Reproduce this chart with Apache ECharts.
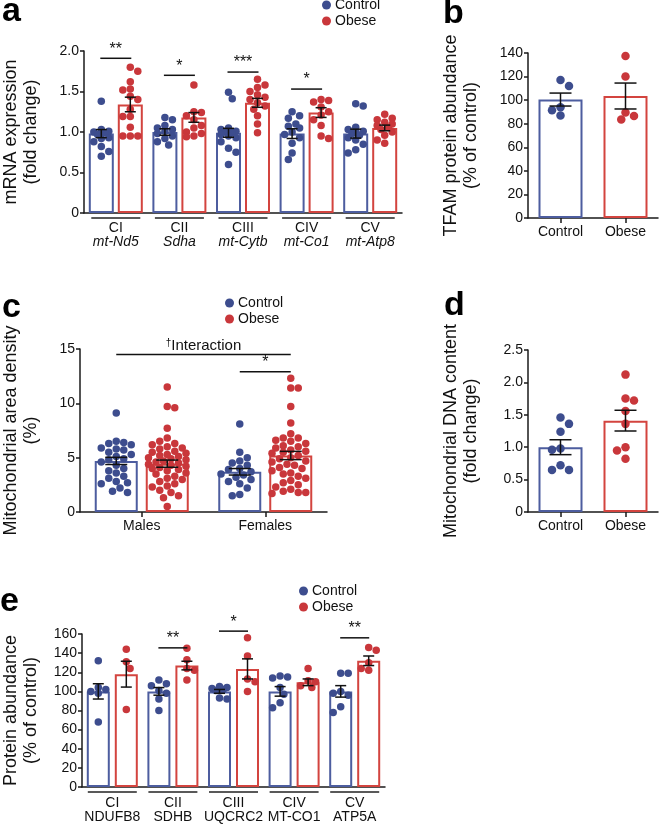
<!DOCTYPE html>
<html><head><meta charset="utf-8">
<script src="https://cdn.jsdelivr.net/npm/echarts@6.0.0/dist/echarts.min.js"></script>
<style>html,body{margin:0;padding:0;background:#fff}#c{width:659px;height:824px}</style>
</head><body><div id="c"></div>
<script>
// ---------------- DATA ----------------
// Panel a: mRNA expression (fold change)
const aComplexes = ['CI', 'CII', 'CIII', 'CIV', 'CV'];
const aGenes = ['mt-Nd5', 'Sdha', 'mt-Cytb', 'mt-Co1', 'mt-Atp8'];
const aControlMean = [0.98, 1.00, 0.99, 0.98, 0.98];
const aControlSem = [0.05, 0.04, 0.055, 0.06, 0.055];
const aObeseMean = [1.34, 1.18, 1.36, 1.24, 1.05];
const aObeseSem = [0.09, 0.06, 0.055, 0.06, 0.035];
const aControlPts = [
  [1.38, 1.03, 1.01, 1.00, 0.99, 0.97, 0.93, 0.92, 0.88, 0.82, 0.76, 0.70],
  [1.18, 1.15, 1.08, 1.05, 1.03, 1.01, 0.98, 0.95, 0.92, 0.88, 0.84],
  [1.49, 1.41, 1.05, 1.03, 1.01, 1.00, 0.99, 0.97, 0.95, 0.93, 0.88, 0.80, 0.75, 0.60],
  [1.25, 1.20, 1.17, 1.10, 1.07, 1.05, 1.00, 0.97, 0.93, 0.86, 0.74, 0.66],
  [1.35, 1.32, 1.06, 1.03, 1.01, 1.00, 0.98, 0.96, 0.93, 0.90, 0.85, 0.78, 0.74]
];
const aObesePts = [
  [1.80, 1.75, 1.62, 1.53, 1.52, 1.44, 1.40, 1.28, 1.19, 1.19, 1.06, 0.95, 0.95, 0.95],
  [1.58, 1.25, 1.24, 1.20, 1.15, 1.08, 1.05, 1.00, 0.98, 0.95, 0.94],
  [1.65, 1.58, 1.55, 1.50, 1.46, 1.43, 1.40, 1.36, 1.32, 1.28, 1.20, 1.10, 0.99],
  [1.40, 1.39, 1.37, 1.31, 1.25, 1.21, 1.15, 1.08, 0.95, 0.92],
  [1.22, 1.17, 1.15, 1.12, 1.10, 1.08, 1.06, 1.03, 1.00, 0.96, 0.90, 0.86]
];
const aSigLabels = ['**', '*', '***', '*', ''];
const aSigLevels = [1.91, 1.70, 1.74, 1.53, null];
const aTicks = [0, 0.5, 1.0, 1.5, 2.0];

// Panel b: TFAM protein abundance (% of control)
const bGroups = ['Control', 'Obese'];
const bMean = [100.5, 103.5];
const bSem = [5.5, 11];
const bPts = [[117, 112, 94, 91.5, 87], [137.5, 120, 89.5, 86.5, 83.5]];
const bTicks = [0, 20, 40, 60, 80, 100, 120, 140];

// Panel c: Mitochondrial area density (%)
const cSexes = ['Males', 'Females'];
const cControlMean = [4.7, 3.7];
const cControlSem = [0.33, 0.3];
const cObeseMean = [4.45, 5.2];
const cObeseSem = [0.33, 0.38];
const cControlPts = [
  [9.1, 6.5, 6.4, 6.3, 6.2, 5.9, 5.8, 5.7, 5.5, 5.3, 5.1, 4.9, 4.8, 4.6, 4.3, 4.0, 3.8, 3.6, 3.3, 3.1, 2.8, 2.7, 2.6, 2.2, 1.9, 1.8],
  [8.1, 5.5, 5.0, 4.7, 4.5, 4.3, 4.0, 3.9, 3.7, 3.5, 3.4, 3.2, 3.0, 2.8, 2.6, 2.2, 1.6, 1.5]
];
const cObesePts = [
  [11.5, 9.7, 9.6, 7.7, 6.8, 6.5, 6.3, 6.2, 6.0, 5.9, 5.8, 5.6, 5.5, 5.4, 5.3, 5.2, 5.1, 5.0, 4.9, 4.8, 4.7, 4.6, 4.5, 4.4, 4.3, 4.2, 4.1, 4.0, 3.9, 3.8, 3.6, 3.5, 3.3, 3.1, 3.0, 2.8, 2.6, 2.4, 2.3, 2.0, 1.8, 1.5, 1.3, 0.5],
  [12.3, 11.4, 11.4, 9.7, 8.2, 7.2, 6.8, 6.8, 6.6, 6.5, 6.3, 6.1, 6.0, 5.9, 5.7, 5.6, 5.5, 5.4, 5.2, 5.0, 4.9, 4.7, 4.6, 4.4, 4.3, 4.1, 4.0, 3.8, 3.6, 3.5, 3.3, 3.1, 2.9, 2.7, 2.5, 2.3, 2.1, 1.9, 1.8, 1.8, 1.7]
];
const cTicks = [0, 5, 10, 15];
const cInteractionLevel = 14.5;
const cFemaleSigLevel = 12.9;

// Panel d: Mitochondrial DNA content (fold change)
const dGroups = ['Control', 'Obese'];
const dMean = [1.0, 1.41];
const dSem = [0.115, 0.16];
const dPts = [[1.46, 1.36, 1.24, 0.98, 0.96, 0.72, 0.65, 0.65], [2.12, 1.75, 1.72, 1.56, 1.36, 1.00, 0.95, 0.82]];
const dTicks = [0, 0.5, 1.0, 1.5, 2.0, 2.5];

// Panel e: Protein abundance (% of control)
const eComplexes = ['CI', 'CII', 'CIII', 'CIV', 'CV'];
const eProteins = ['NDUFB8', 'SDHB', 'UQCRC2', 'MT-CO1', 'ATP5A'];
const eControlMean = [100, 100, 100, 100, 100];
const eControlSem = [8, 4, 2, 5, 6];
const eObeseMean = [118, 127, 123.5, 109.5, 132];
const eObeseSem = [13.5, 4.5, 10.5, 3.5, 5];
const eControlPts = [
  [132, 104, 102, 100, 98, 68],
  [112, 108, 106, 101, 98, 92, 80],
  [105, 104, 103, 102, 101, 93, 92],
  [116, 115, 114, 104, 97, 88, 83],
  [119, 119, 100, 98, 96, 84, 78]
];
const eObesePts = [
  [144, 131, 124, 81],
  [145, 133, 124, 122, 112],
  [156, 137, 113, 110, 100],
  [124, 111, 110, 106, 104],
  [146, 143, 130, 124, 122]
];
const eSigLabels = ['', '**', '*', '', '**'];
const eSigLevels = [null, 145.5, 163, null, 156];
const eTicks = [0, 20, 40, 60, 80, 100, 120, 140, 160];

// ---------------- STYLE ----------------
const FONT = "'Liberation Sans', Arial, Helvetica, sans-serif";
const BLUE_DOT = '#3d4d8e', RED_DOT = '#c9373b';
const BLUE_BAR = '#4d5d9f', RED_BAR = '#d3443f';
const AXIS = '#1a1a1a', TXT = '#111';

const series = [], xAxes = [], yAxes = [], grids = [];

function swarm(vals, ppu, d, maxHalf) {
  const order = vals.map((v, i) => i).sort((p, q) => vals[q] - vals[p]);
  const placed = [], dx = new Array(vals.length).fill(0);
  const step = d * 0.5;
  let flip = 1;
  order.forEach(i => {
    const y = vals[i] * ppu;
    let best = 0, bestScore = -1;
    const nMax = Math.ceil(maxHalf / step) * 2;
    for (let n = 0; n <= nMax; n++) {
      const m = Math.ceil(n / 2) * (n % 2 === 1 ? flip : -flip);
      const x = m * step;
      if (Math.abs(x) > maxHalf) continue;
      let minD = Infinity;
      placed.forEach(p => { const dd = Math.hypot(p[0] - x, p[1] - y); if (dd < minD) minD = dd; });
      if (minD >= d * 0.92) { best = x; bestScore = Infinity; break; }
      if (minD > bestScore) { bestScore = minD; best = x; }
    }
    if (best !== 0) flip = -flip;
    dx[i] = best; placed.push([best, y]);
  });
  return dx;
}

function yAxisCfg(i, ticks, fmt, name, gap) {
  return {
    type: 'value', gridIndex: i, min: ticks[0], max: ticks[ticks.length - 1], interval: ticks[1] - ticks[0],
    axisLine: { show: true, lineStyle: { color: AXIS, width: 1.5 } },
    axisTick: { show: true, length: 4, lineStyle: { color: AXIS, width: 1.5 } },
    axisLabel: { fontSize: 14, color: TXT, fontFamily: FONT, margin: 5, formatter: fmt },
    splitLine: { show: false },
    name: name, nameLocation: 'middle', nameRotate: 90, nameGap: gap,
    nameTextStyle: { fontSize: 18, lineHeight: 20, color: TXT, fontFamily: FONT }
  };
}
function xAxisCfg(i, cats, ticks, labelCfg) {
  return Object.assign({
    type: 'category', gridIndex: i, data: cats,
    axisLine: { show: true, lineStyle: { color: AXIS, width: 1.5 } },
    axisTick: { show: ticks, alignWithLabel: true, length: 5, lineStyle: { color: AXIS, width: 1.5 } },
    axisLabel: { fontSize: 14, color: TXT, fontFamily: FONT, margin: 7, interval: 0 }
  }, labelCfg || {});
}

function errRender(offset, cap) {
  return function (params, api) {
    const k = api.value(0), m = api.value(1), s = api.value(2);
    const c = api.coord([k, m]), t = api.coord([k, m + s]), b = api.coord([k, m - s]);
    const x = c[0] + offset;
    const st = { stroke: '#111', lineWidth: 1.5 };
    return { type: 'group', children: [
      { type: 'line', shape: { x1: x, y1: t[1], x2: x, y2: b[1] }, style: st },
      { type: 'line', shape: { x1: x - cap, y1: t[1], x2: x + cap, y2: t[1] }, style: st },
      { type: 'line', shape: { x1: x - cap, y1: b[1], x2: x + cap, y2: b[1] }, style: st }
    ] };
  };
}

// grouped panel (two bars per category)
function groupedPanel(i, o) {
  const ppu = o.grid.height / (o.ticks[o.ticks.length - 1] - o.ticks[0]);
  const off = (o.barWidth + o.gap) / 2;
  [[o.ctlMean, BLUE_BAR, 'Control bar'], [o.obMean, RED_BAR, 'Obese bar']].forEach(([m, col, nm]) => {
    series.push({ type: 'bar', name: nm, xAxisIndex: i, yAxisIndex: i, data: m, barWidth: o.barWidth,
      barGap: (o.gap / o.barWidth * 100) + '%', itemStyle: { color: '#fff', borderColor: col, borderWidth: 2 }, z: 1, silent: true });
  });
  [[o.ctlPts, BLUE_DOT, 'Control', -off], [o.obPts, RED_DOT, 'Obese', off]].forEach(([pts, col, nm, base]) => {
    const data = [];
    pts.forEach((arr, k) => {
      const dx = swarm(arr, ppu, o.dot, o.barWidth / 2 - 2);
      arr.forEach((v, j) => data.push({ value: [k, v], symbolOffset: [base + dx[j], 0] }));
    });
    series.push({ type: 'scatter', name: nm, xAxisIndex: i, yAxisIndex: i, data, symbol: 'circle', symbolSize: o.dot,
      itemStyle: { color: col, opacity: 1 }, z: 3, silent: true });
  });
  [[o.ctlMean, o.ctlSem, -off], [o.obMean, o.obSem, off]].forEach(([m, s, base]) => {
    series.push({ type: 'custom', xAxisIndex: i, yAxisIndex: i, z: 5, silent: true, clip: false,
      data: m.map((v, k) => [k, v, s[k]]), renderItem: errRender(base, o.cap) });
  });
  if (o.sigLabels) {
    const data = [];
    o.sigLabels.forEach((lab, k) => { if (lab) data.push([k, o.sigLevels[k]]); });
    const labs = o.sigLabels.filter(l => l);
    series.push({ type: 'custom', xAxisIndex: i, yAxisIndex: i, z: 5, silent: true, clip: false, data,
      renderItem: function (params, api) {
        const p = api.coord([api.value(0), api.value(1)]);
        return { type: 'group', children: [
          { type: 'line', shape: { x1: p[0] - o.sigHalf, y1: p[1], x2: p[0] + o.sigHalf, y2: p[1] }, style: { stroke: '#111', lineWidth: 1.5 } },
          { type: 'text', style: { x: p[0], y: p[1] - 1, text: labs[params.dataIndex], fill: '#111', font: '16px ' + FONT, align: 'center', verticalAlign: 'bottom' } }
        ] };
      } });
  }
  if (o.underline) {
    series.push({ type: 'custom', xAxisIndex: i, yAxisIndex: i, z: 5, silent: true, clip: false,
      data: o.ctlMean.map((v, k) => [k, 0]),
      renderItem: function (params, api) {
        const p = api.coord([api.value(0), 0]);
        return { type: 'line', shape: { x1: p[0] - o.underline, y1: p[1] + 5, x2: p[0] + o.underline, y2: p[1] + 5 }, style: { stroke: '#222', lineWidth: 1.5 } };
      } });
  }
  return off;
}

// two-category panel (one bar per category)
function singlePanel(i, o) {
  const ppu = o.grid.height / (o.ticks[o.ticks.length - 1] - o.ticks[0]);
  series.push({ type: 'bar', name: 'bars', xAxisIndex: i, yAxisIndex: i, barWidth: o.barWidth, z: 1, silent: true,
    data: o.mean.map((v, k) => ({ value: v, itemStyle: { color: '#fff', borderColor: k === 0 ? BLUE_BAR : RED_BAR, borderWidth: 2 } })) });
  [[0, BLUE_DOT, 'Control'], [1, RED_DOT, 'Obese']].forEach(([k, col, nm]) => {
    const arr = o.pts[k];
    const dx = swarm(arr, ppu, o.dot, o.barWidth / 2 - 6);
    series.push({ type: 'scatter', name: nm, xAxisIndex: i, yAxisIndex: i, symbol: 'circle', symbolSize: o.dot, z: 3, silent: true,
      itemStyle: { color: col, opacity: 1 },
      data: arr.map((v, j) => ({ value: [k, v], symbolOffset: [dx[j], 0] })) });
  });
  series.push({ type: 'custom', xAxisIndex: i, yAxisIndex: i, z: 5, silent: true, clip: false,
    data: o.mean.map((v, k) => [k, v, o.sem[k]]), renderItem: errRender(0, 11) });
}

const fmt1 = v => (v === 0 ? '0' : v.toFixed(1));
const fmt0 = v => String(v);

// Panel a
grids.push({ left: 82, top: 51, width: 320, height: 162 });
yAxes.push(yAxisCfg(0, aTicks, fmt1, 'mRNA expression\n(fold change)', 43));
xAxes.push(xAxisCfg(0, aComplexes, false, { axisLabel: { interval: 0, margin: 8, color: TXT, fontFamily: FONT, fontSize: 14, lineHeight: 14,
  formatter: (v, idx) => v + '\n{g|' + aGenes[idx] + '}', rich: { g: { fontStyle: 'italic', fontSize: 14, fontFamily: FONT, color: TXT, lineHeight: 14 } } } }));
groupedPanel(0, { grid: grids[0], ticks: aTicks, barWidth: 25, gap: 4, dot: 7.5, cap: 5.5,
  ctlMean: aControlMean, ctlSem: aControlSem, obMean: aObeseMean, obSem: aObeseSem, ctlPts: aControlPts, obPts: aObesePts,
  sigLabels: aSigLabels, sigLevels: aSigLevels, sigHalf: 15.5, underline: 24.5 });

// Panel b
grids.push({ left: 528, top: 53, width: 130, height: 165 });
yAxes.push(yAxisCfg(1, bTicks, fmt0, 'TFAM protein abundance\n(% of control)', 47));
xAxes.push(xAxisCfg(1, bGroups, true));
singlePanel(1, { grid: grids[1], ticks: bTicks, barWidth: 44, dot: 8.5, mean: bMean, sem: bSem, pts: bPts });

// Panel c
grids.push({ left: 77, top: 349, width: 250, height: 163 });
yAxes.push(yAxisCfg(2, cTicks, fmt0, 'Mitochondrial area density\n(%)', 39));
xAxes.push(xAxisCfg(2, cSexes, true));
const cOff = groupedPanel(2, { grid: grids[2], ticks: cTicks, barWidth: 43, gap: 8, dot: 7.5, cap: 11,
  ctlMean: cControlMean, ctlSem: cControlSem, obMean: cObeseMean, obSem: cObeseSem, ctlPts: cControlPts, obPts: cObesePts });
series.push({ type: 'custom', xAxisIndex: 2, yAxisIndex: 2, z: 5, silent: true, clip: false,
  data: [[0, cInteractionLevel]],
  renderItem: function (params, api) {
    const a = api.coord([0, cInteractionLevel]), b = api.coord([1, cInteractionLevel]);
    const f = api.coord([1, cFemaleSigLevel]);
    const x1 = a[0] - cOff, x2 = b[0] + cOff;
    return { type: 'group', children: [
      { type: 'line', shape: { x1, y1: a[1], x2, y2: a[1] }, style: { stroke: '#111', lineWidth: 1.5 } },
      { type: 'text', style: { x: (x1 + x2) / 2, y: a[1] - 1, text: '{s|†}Interaction', align: 'center', verticalAlign: 'bottom',
        font: '15px ' + FONT, fill: '#111', rich: { s: { fontSize: 10, fontFamily: FONT, fill: '#111', verticalAlign: 'top', padding: [0, 0, 5, 0] } } } },
      { type: 'line', shape: { x1: f[0] - cOff, y1: f[1], x2: f[0] + cOff, y2: f[1] }, style: { stroke: '#111', lineWidth: 1.5 } },
      { type: 'text', style: { x: f[0], y: f[1] - 1, text: '*', align: 'center', verticalAlign: 'bottom', font: '16px ' + FONT, fill: '#111' } }
    ] };
  } });

// Panel d
grids.push({ left: 528, top: 350, width: 130, height: 162 });
yAxes.push(yAxisCfg(3, dTicks, fmt1, 'Mitochondrial DNA content\n(fold change)', 47));
xAxes.push(xAxisCfg(3, dGroups, true));
singlePanel(3, { grid: grids[3], ticks: dTicks, barWidth: 44, dot: 8.5, mean: dMean, sem: dSem, pts: dPts });

// Panel e
grids.push({ left: 81, top: 634, width: 304, height: 154 });
yAxes.push(yAxisCfg(4, eTicks, fmt0, 'Protein abundance\n(% of control)', 41));
xAxes.push(xAxisCfg(4, eComplexes, false, { axisLabel: { interval: 0, margin: 9, color: TXT, fontFamily: FONT, fontSize: 14, lineHeight: 14,
  formatter: (v, idx) => v + '\n' + eProteins[idx] } }));
groupedPanel(4, { grid: grids[4], ticks: eTicks, barWidth: 23, gap: 5, dot: 7.5, cap: 5.5,
  ctlMean: eControlMean, ctlSem: eControlSem, obMean: eObeseMean, obSem: eObeseSem, ctlPts: eControlPts, obPts: eObesePts,
  sigLabels: eSigLabels, sigLevels: eSigLevels, sigHalf: 14.5, underline: 24.5 });

function legendAt(left, top) {
  return { left, top, orient: 'vertical', itemWidth: 9, itemHeight: 9, itemGap: 2, padding: 0, icon: 'circle', selectedMode: false,
    textStyle: { fontSize: 14, color: TXT, fontFamily: FONT, padding: [0, 0, 0, -1] },
    data: [{ name: 'Control', itemStyle: { color: BLUE_DOT } }, { name: 'Obese', itemStyle: { color: RED_DOT } }] };
}
function letter(t, left, top) {
  return { type: 'text', left, top, style: { text: t, font: 'bold 34px ' + FONT, fill: '#000' } };
}

const chart = echarts.init(document.getElementById('c'), null, { renderer: 'canvas' });
chart.setOption({
  animation: false,
  backgroundColor: '#fff',
  textStyle: { fontFamily: FONT },
  grid: grids, xAxis: xAxes, yAxis: yAxes, series,
  legend: [legendAt(322, -2), legendAt(225, 296), legendAt(299, 584)],
  graphic: [letter('a', 2, -5), letter('b', 443, -3), letter('c', 2, 291), letter('d', 444, 289), letter('e', 0, 585)]
});
</script></body></html>
